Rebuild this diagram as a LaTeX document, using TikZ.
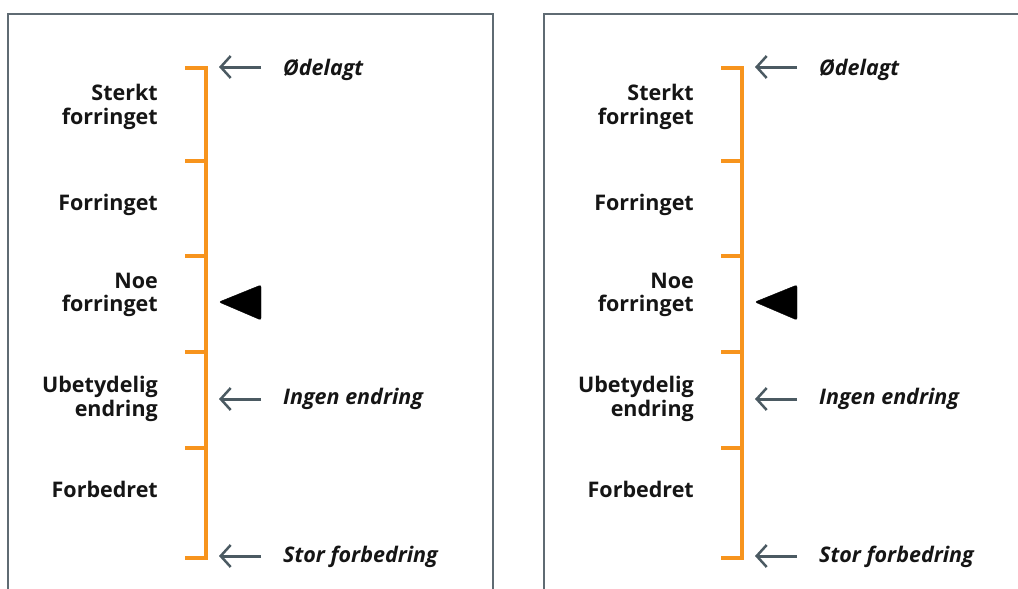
\documentclass[tikz,border=0pt]{standalone}
\usepackage{fontspec}
\setmainfont{Open Sans}
\usetikzlibrary{arrows.meta,positioning}
\definecolor{skalafarge}{HTML}{F7941D}
\definecolor{rammefarge}{HTML}{5F6B73}
\definecolor{pilfarge}{HTML}{4B5A62}
\definecolor{tekstfarge}{HTML}{151515}
\tikzset{
  ramme/.style={draw=rammefarge,line width=2pt},
  skala/.style={draw=skalafarge,line width=4pt},
  niva/.style={anchor=east,align=right,text=tekstfarge,font=\bfseries\fontsize{21.5}{23.5}\selectfont,inner sep=0pt},
  merke/.style={anchor=west,text=tekstfarge,font=\bfseries\itshape\fontsize{21.5}{23.5}\selectfont,inner sep=0pt},
  pil/.style={draw=pilfarge,line width=3pt,-{Straight Barb[length=10pt,width=22pt,line width=2.5pt]},shorten <=22pt},
}
\begin{document}
\begin{tikzpicture}[x=1pt,y=-1pt]
\useasboundingbox (0,0) rectangle (1018,589);

% rammer
\draw[ramme] (8,592) |- (493,14) -- (493,592);
\draw[ramme] (544,592) |- (1022,14);

\foreach \p/\dx in {a/0,b/536}{
\begin{scope}[xshift=\dx pt]
% skala
\coordinate (\p-t0) at (206,68);
\coordinate (\p-t1) at (206,161);
\coordinate (\p-t2) at (206,256);
\coordinate (\p-t3) at (206,352);
\coordinate (\p-t4) at (206,448);
\coordinate (\p-t5) at (206,558);
\draw[skala] ([xshift=-21pt]\p-t0) -- (\p-t0) -- (\p-t5) -- ([xshift=-21pt]\p-t5);
\foreach \i in {1,...,4}
  \draw[skala] (\p-t\i) -- ++(-21,0);

% nivaa
\node[niva] (\p-sterkt) at (158,107) {Sterkt\\forringet};
\node[niva] (\p-forr) at (158,205) {Forringet};
\node[niva] (\p-noe) at (158,295) {Noe\\forringet};
\node[niva] (\p-ubet) at (158,399) {Ubetydelig\\endring};
\node[niva] (\p-forb) at (158,489) {Forbedret};

% merker
\node[merke] (\p-odel) at (283,70) {Ødelagt};
\node[merke] (\p-ingen) at (283,399) {Ingen endring};
\node[merke] (\p-stor) at (283,557) {Stor forbedring};
\coordinate (\p-odel-spiss) at (219,67);
\coordinate (\p-ingen-spiss) at (219,399);
\coordinate (\p-stor-spiss) at (219,556);
\draw[pil] (\p-odel.west |- \p-odel-spiss) -- (\p-odel-spiss);
\draw[pil] (\p-ingen.west |- \p-ingen-spiss) -- (\p-ingen-spiss);
\draw[pil] (\p-stor.west |- \p-stor-spiss) -- (\p-stor-spiss);

% markor
\filldraw[black,rounded corners=2pt] (219,302) -- (261,285) -- (261,320) -- cycle;
\end{scope}
}
\end{tikzpicture}
\end{document}
